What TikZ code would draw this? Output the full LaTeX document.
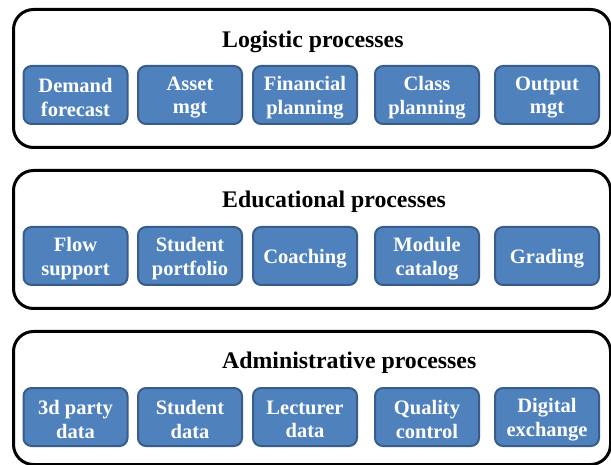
\documentclass[tikz,border=0pt]{standalone}
\usepackage{fontspec}
\setmainfont{Liberation Serif}
\newfontfamily\tnrbold{Liberation Serif Bold}
\definecolor{boxfill}{HTML}{4F81BD}
\definecolor{boxborder}{HTML}{385D8A}
\tikzset{
  panel/.style={draw=black, line width=3pt, rounded corners=20pt, fill=white},
  procbox/.style={draw=boxborder, line width=2pt, fill=boxfill, rounded corners=8pt,
    minimum width=104pt, minimum height=58pt, inner sep=0pt},
  boxlabel/.style={align=center, inner sep=0pt, text=white, yshift=-2.5pt,
    font=\tnrbold\fontsize{20.5}{23.5}\selectfont},
  paneltitle/.style={anchor=base west, inner sep=0pt, font=\tnrbold\fontsize{23.8}{26}\selectfont}
}
\begin{document}
\begin{tikzpicture}[x=1pt,y=-1pt]
\useasboundingbox (0,0) rectangle (611,465);
% panels
\node[panel, minimum width=597pt, minimum height=138pt, anchor=north west, inner sep=0pt] (p1) at (12,8) {};
\node[panel, minimum width=597pt, minimum height=138pt, anchor=north west, inner sep=0pt] (p2) at (12,169) {};
\node[panel, minimum width=597pt, minimum height=133pt, anchor=north west, inner sep=0pt] (p3) at (12,330) {};
% titles
\node[paneltitle] (t1) at (222,48) {Logistic processes};
\node[paneltitle] (t2) at (222,208) {Educational processes};
\node[paneltitle] (t3) at (222,368) {Administrative processes};
% row 1
\node[procbox, label={[boxlabel]center:{Demand\\forecast}}] (a1) at (75.5,95) {};
\node[procbox, label={[boxlabel]center:{Asset\\mgt}}] (a2) at (190,95) {};
\node[procbox, label={[boxlabel]center:{Financial\\planning}}] (a3) at (305,95) {};
\node[procbox, label={[boxlabel]center:{Class\\planning}}] (a4) at (427,95) {};
\node[procbox, label={[boxlabel]center:{Output\\mgt}}] (a5) at (547,95) {};
% row 2
\node[procbox, label={[boxlabel]center:{Flow\\support}}] (b1) at (75.5,256) {};
\node[procbox, label={[boxlabel]center:{Student\\portfolio}}] (b2) at (190,256) {};
\node[procbox, label={[boxlabel]center:{Coaching}}] (b3) at (305,256) {};
\node[procbox, label={[boxlabel]center:{Module\\catalog}}] (b4) at (427,256) {};
\node[procbox, label={[boxlabel]center:{Grading}}] (b5) at (547,256) {};
% row 3
\node[procbox, label={[boxlabel]center:{3d party\\data}}] (c1) at (75.5,417) {};
\node[procbox, label={[boxlabel]center:{Student\\data}}] (c2) at (190,417) {};
\node[procbox, label={[boxlabel]center:{Lecturer\\data}}] (c3) at (305,417) {};
\node[procbox, label={[boxlabel]center:{Quality\\control}}] (c4) at (427,417) {};
\node[procbox, label={[boxlabel]center:{Digital\\exchange}}] (c5) at (547,417) {};
\end{tikzpicture}
\end{document}
